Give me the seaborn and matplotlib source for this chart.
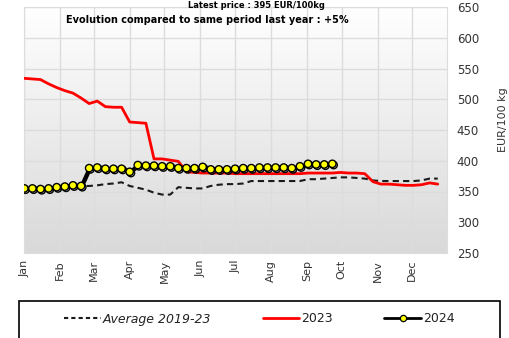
import numpy as np
import pandas as pd
import matplotlib
matplotlib.use("Agg")
import matplotlib.pyplot as plt
import matplotlib.patheffects as pe
from matplotlib.colors import LinearSegmentedColormap
from matplotlib.lines import Line2D
from matplotlib.patches import Rectangle
import seaborn as sns

# Month labels and the day-of-year where each month starts (2024)
months = ["Jan", "Feb", "Mar", "Apr", "May", "Jun",
          "Jul", "Aug", "Sep", "Oct", "Nov", "Dec"]
month_start_days = [0, 31, 60, 91, 121, 152, 182, 213, 244, 274, 305, 335]

# Weekly prices, EUR/100 kg
avg_2019_23 = [355, 356, 356, 357, 357, 358, 358, 359,
               359, 360, 362, 363, 365, 359, 356, 353, 348, 345,
               345, 357, 356, 355, 355, 359, 361, 362, 362, 363,
               367, 367, 367, 367, 367, 367, 367, 370, 370, 371,
               372, 373, 373, 372, 371, 368, 367, 367, 367, 367,
               367, 368, 371, 371]
prices_2023 = [534, 533, 532, 525, 519, 514, 510, 502, 493, 497, 488, 487, 487,
               463, 462, 461, 403, 403, 401, 399,
               382, 381, 380, 380, 380, 380, 379, 379, 379, 379,
               379, 379, 379, 379, 379, 380, 380, 380, 380, 381,
               380, 380, 379, 366, 362, 362, 361, 360, 360, 361, 364, 362]
prices_2024 = [355, 355, 354, 355, 357, 358, 360, 359,
               388, 389, 387, 387, 387, 382,
               393, 392, 392, 391, 391,
               388, 388, 388, 390, 386, 386, 386,
               387, 388, 388, 389, 389, 389, 389, 388, 391, 395, 394, 394, 395]

y_ticks = [250, 300, 350, 400, 450, 500, 550, 600, 650]
series_labels = ["Average 2019-23", "2023", "2024"]


def weekly(values):
    return pd.DataFrame({"day": np.arange(len(values)) * 7, "price": values})


sns.set_theme(style="white")
plt.rcParams["font.family"] = ["DejaVu Sans"]

fig = plt.figure(figsize=(5.09, 3.38), dpi=100)
ax = fig.add_axes([24.3 / 509, 1 - 253 / 338, 422.7 / 509, 246 / 338])

# soft vertical gradient behind the plot
grad_cmap = LinearSegmentedColormap.from_list("bg", ["#d9d9d9", "#ffffff"])
ax.imshow(np.linspace(0, 1, 256).reshape(-1, 1), cmap=grad_cmap, origin="lower",
          extent=[0, 1, 0, 1], transform=ax.transAxes, aspect="auto", zorder=-1)

sns.lineplot(data=weekly(avg_2019_23), x="day", y="price", ax=ax,
             color="#1a1a1a", lw=1.5, linestyle=(0, (3, 2)), zorder=3)
sns.lineplot(data=weekly(prices_2023), x="day", y="price", ax=ax,
             color="#ff0000", lw=2, zorder=4)
sns.lineplot(data=weekly(prices_2024), x="day", y="price", ax=ax,
             color="black", lw=2, marker="o", markersize=5.3,
             markerfacecolor="#ffff00", markeredgecolor="black",
             markeredgewidth=1.0, zorder=5,
             path_effects=[pe.SimpleLineShadow(offset=(0.9, -0.9), shadow_color="black",
                                               alpha=1, rho=1), pe.Normal()])

ax.set_xlim(0, 365)
ax.set_ylim(250, 650)
ax.set_xticks(month_start_days)
ax.set_xticklabels(months, rotation=90, fontsize=8, color="#333333")
ax.set_yticks(y_ticks)
ax.set_yticklabels([str(v) for v in y_ticks], fontsize=8.5, color="#333333")
ax.yaxis.tick_right()
ax.tick_params(axis="both", length=0)
ax.tick_params(axis="y", pad=7)
ax.tick_params(axis="x", pad=5)
ax.set_xlabel("")
ax.set_ylabel("")
ax.grid(True, color="#dcdcdc", lw=1)
ax.set_axisbelow(True)
for sp in ax.spines.values():
    sp.set_color("#dddddd")
    sp.set_linewidth(0.8)

fig.text(503 / 509, 1 - 120 / 338, "EUR/100 kg", rotation=90, ha="center", va="center",
         fontsize=8, color="#333333")

ax.text(0.433, 0.947, "Evolution compared to same period last year : +5%",
        transform=ax.transAxes, ha="center", va="center",
        fontsize=7, fontweight="bold", color="black")
fig.text(256 / 509, 1 - 0.5 / 338, "Latest price : 395 EUR/100kg", ha="center",
         va="top", fontsize=6, fontweight="bold", color="black")

# legend in a framed box under the chart
handles = [
    Line2D([], [], color="#1a1a1a", lw=1.5, linestyle=(0, (2, 1.5))),
    Line2D([], [], color="#ff0000", lw=2),
    Line2D([], [], color="black", lw=2, marker="o", markersize=4.5,
           markerfacecolor="#ffff00", markeredgecolor="black", markeredgewidth=0.9),
]
leg = fig.legend(handles, series_labels, loc="center",
                 bbox_to_anchor=(259.5 / 509, 1 - 319 / 338),
                 ncol=3, frameon=False, fontsize=9, handlelength=2.9,
                 columnspacing=4.1, handletextpad=0.2)
leg.get_texts()[0].set_fontstyle("italic")
for t in leg.get_texts():
    t.set_color("#222222")
fig.patches.append(Rectangle((19 / 509, -0.02), 481 / 509, (1 - 300.7 / 338) + 0.02,
                             transform=fig.transFigure, fill=False,
                             edgecolor="black", lw=1.2))

fig.savefig("out.png", dpi=100)
